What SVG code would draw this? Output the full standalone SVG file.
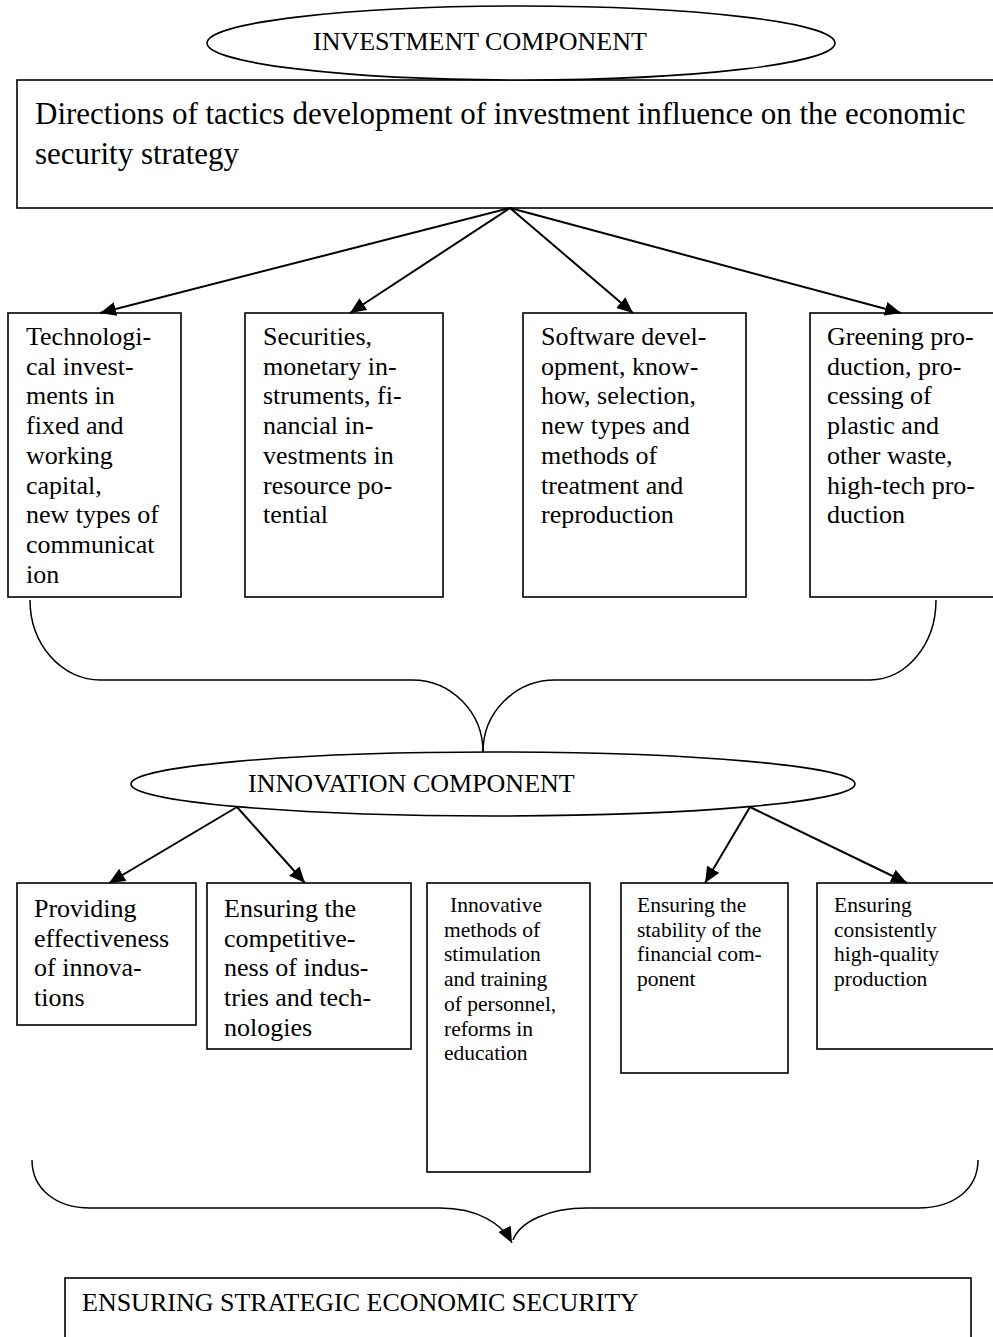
<svg xmlns="http://www.w3.org/2000/svg" width="993" height="1337" viewBox="0 0 993 1337">
<style>
.box{fill:#fff;stroke:#000;stroke-width:1.6}
.ell{fill:#fff;stroke:#000;stroke-width:1.6}
text{font-family:'Liberation Serif','Times New Roman',Times,'DejaVu Serif',serif;fill:#000}
.t26{font-size:26px}
.t31{font-size:31px}
.t22{font-size:21.5px}
.arr{stroke:#000;stroke-width:2;fill:none}
.brace{stroke:#000;stroke-width:1.5;fill:none}
</style>
<defs>
<marker id="ah2" viewBox="0 0 16 14" refX="16" refY="7" markerWidth="16" markerHeight="14" markerUnits="userSpaceOnUse" orient="auto">
<path d="M0,0 L16,7 L0,14 z" fill="#000"/>
</marker>
</defs>
<rect width="993" height="1337" fill="#fff"/>

<g id="main-rect">
<rect class="box" x="17" y="80" width="1000" height="128"/>
<text class="t31" x="35" y="124" font-family="Liberation Serif">Directions of tactics development of investment influence on the economic</text>
<text class="t31" x="35" y="164" font-family="Liberation Serif">security strategy</text>
</g>

<g id="investment-component">
<ellipse class="ell" cx="521" cy="43" rx="314" ry="37"/>
<text class="t26" x="313" y="50" font-family="Liberation Serif">INVESTMENT COMPONENT</text>
</g>

<g id="box1" font-family="Liberation Serif">
<rect class="box" x="8" y="313" width="173" height="284"/>
<text class="t26">
<tspan x="26" y="345">Technologi-</tspan>
<tspan x="26" y="374.7">cal invest-</tspan>
<tspan x="26" y="404.4">ments in</tspan>
<tspan x="26" y="434.1">fixed and</tspan>
<tspan x="26" y="463.8">working</tspan>
<tspan x="26" y="493.5">capital,</tspan>
<tspan x="26" y="523.2">new types of</tspan>
<tspan x="26" y="552.9">communicat</tspan>
<tspan x="26" y="582.6">ion</tspan>
</text>
</g>

<g id="box2">
<rect class="box" x="245" y="313" width="198" height="284"/>
<text class="t26">
<tspan x="263" y="345">Securities,</tspan>
<tspan x="263" y="374.7">monetary in-</tspan>
<tspan x="263" y="404.4">struments, fi-</tspan>
<tspan x="263" y="434.1">nancial in-</tspan>
<tspan x="263" y="463.8">vestments in</tspan>
<tspan x="263" y="493.5">resource po-</tspan>
<tspan x="263" y="523.2">tential</tspan>
</text>
</g>

<g id="box3">
<rect class="box" x="523" y="313" width="223" height="284"/>
<text class="t26">
<tspan x="541" y="345">Software devel-</tspan>
<tspan x="541" y="374.7">opment, know-</tspan>
<tspan x="541" y="404.4">how, selection,</tspan>
<tspan x="541" y="434.1">new types and</tspan>
<tspan x="541" y="463.8">methods of</tspan>
<tspan x="541" y="493.5">treatment and</tspan>
<tspan x="541" y="523.2">reproduction</tspan>
</text>
</g>

<g id="box4">
<rect class="box" x="810" y="313" width="200" height="284"/>
<text class="t26">
<tspan x="827" y="345">Greening pro-</tspan>
<tspan x="827" y="374.7">duction, pro-</tspan>
<tspan x="827" y="404.4">cessing of</tspan>
<tspan x="827" y="434.1">plastic and</tspan>
<tspan x="827" y="463.8">other waste,</tspan>
<tspan x="827" y="493.5">high-tech pro-</tspan>
<tspan x="827" y="523.2">duction</tspan>
</text>
</g>

<g id="innovation-component">
<ellipse class="ell" cx="493" cy="784" rx="362" ry="32"/>
<text class="t26" x="248" y="792">INNOVATION COMPONENT</text>
</g>

<g id="boxA">
<rect class="box" x="17" y="883" width="179" height="142"/>
<text class="t26">
<tspan x="34" y="917">Providing</tspan>
<tspan x="34" y="946.7">effectiveness</tspan>
<tspan x="34" y="976.4">of innova-</tspan>
<tspan x="34" y="1006.1">tions</tspan>
</text>
</g>

<g id="boxB">
<rect class="box" x="207" y="883" width="204" height="166"/>
<text class="t26">
<tspan x="224" y="917">Ensuring the</tspan>
<tspan x="224" y="946.7">competitive-</tspan>
<tspan x="224" y="976.4">ness of indus-</tspan>
<tspan x="224" y="1006.1">tries and tech-</tspan>
<tspan x="224" y="1035.8">nologies</tspan>
</text>
</g>

<g id="boxC">
<rect class="box" x="427" y="883" width="163" height="289"/>
<text class="t22">
<tspan x="450" y="912">Innovative</tspan>
<tspan x="444" y="936.7">methods of</tspan>
<tspan x="444" y="961.4">stimulation</tspan>
<tspan x="444" y="986.1">and training</tspan>
<tspan x="444" y="1010.8">of personnel,</tspan>
<tspan x="444" y="1035.5">reforms in</tspan>
<tspan x="444" y="1060.2">education</tspan>
</text>
</g>

<g id="boxD">
<rect class="box" x="621" y="883" width="167" height="190"/>
<text class="t22">
<tspan x="637" y="912">Ensuring the</tspan>
<tspan x="637" y="936.7">stability of the</tspan>
<tspan x="637" y="961.4">financial com-</tspan>
<tspan x="637" y="986.1">ponent</tspan>
</text>
</g>

<g id="boxE">
<rect class="box" x="817" y="883" width="200" height="166"/>
<text class="t22">
<tspan x="834" y="912">Ensuring</tspan>
<tspan x="834" y="936.7">consistently</tspan>
<tspan x="834" y="961.4">high-quality</tspan>
<tspan x="834" y="986.1">production</tspan>
</text>
</g>

<g id="bottom-rect">
<rect class="box" x="65" y="1278" width="906" height="80"/>
<text class="t26" x="82" y="1311">ENSURING STRATEGIC ECONOMIC SECURITY</text>
</g>

<g id="connectors">
<line class="arr" marker-end="url(#ah2)" x1="510" y1="208" x2="100" y2="313"/>
<line class="arr" marker-end="url(#ah2)" x1="510" y1="208" x2="350" y2="313"/>
<line class="arr" marker-end="url(#ah2)" x1="510" y1="208" x2="633" y2="313"/>
<line class="arr" marker-end="url(#ah2)" x1="510" y1="208" x2="901" y2="313"/>
<line class="arr" marker-end="url(#ah2)" x1="237" y1="807" x2="109" y2="883"/>
<line class="arr" marker-end="url(#ah2)" x1="237" y1="807" x2="305" y2="883"/>
<line class="arr" marker-end="url(#ah2)" x1="750" y1="807" x2="705" y2="883"/>
<line class="arr" marker-end="url(#ah2)" x1="750" y1="807" x2="907" y2="883"/>
<path class="brace" d="M30,600 A70,80 0 0 0 100,680 L412,680 A71,72 0 0 1 483,752"/>
<path class="brace" d="M936,600 A66,80 0 0 1 870,680 L555,680 A72,72 0 0 0 483,752"/>
<path class="brace" d="M32,1160 C32,1188 55,1208 90,1208 L440,1208 C478,1208 502,1224 512,1243" marker-end="url(#ah2)"/>
<path class="brace" d="M978,1160 C978,1188 955,1208 918,1208 L587,1208 C548,1208 520,1222 513,1240"/>
</g>
</svg>
